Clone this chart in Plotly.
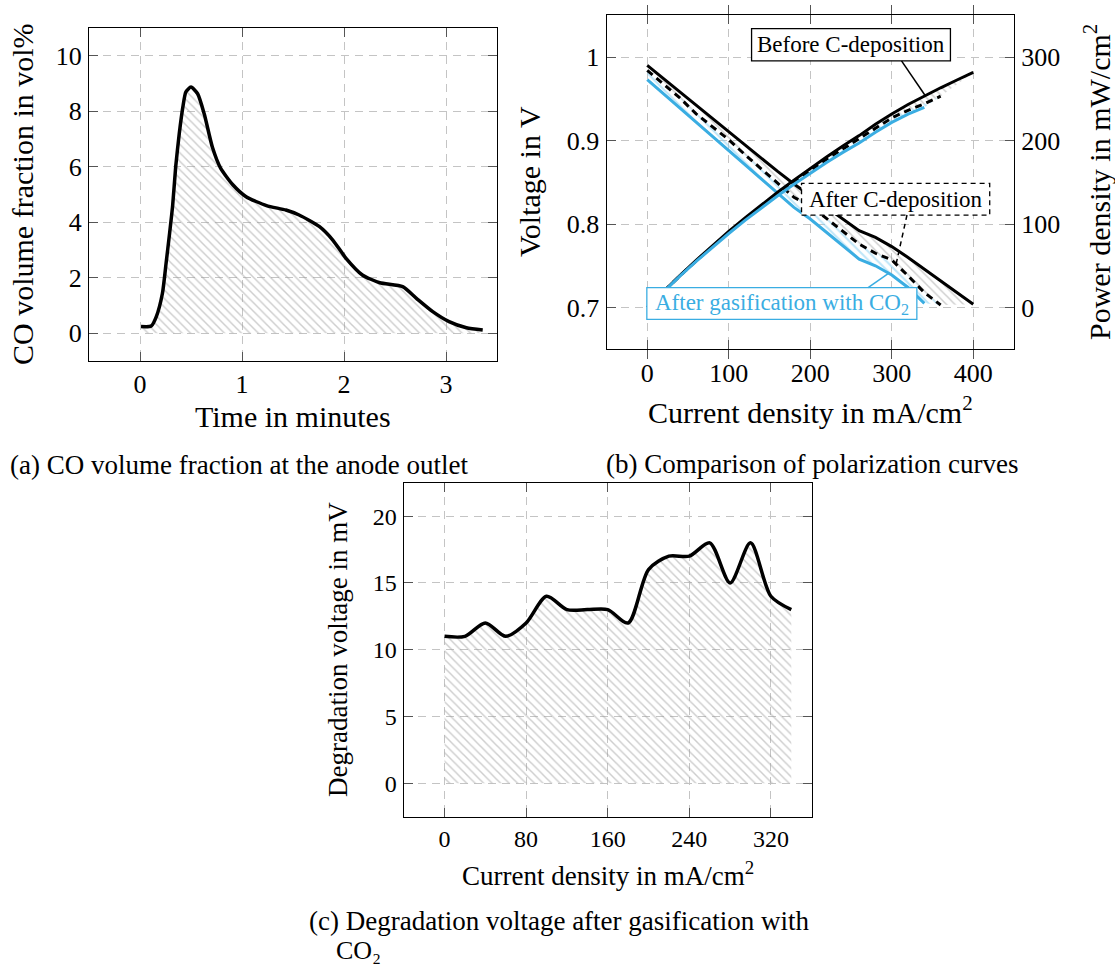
import plotly.graph_objects as go

W, H = 1115, 966
SERIF = "Liberation Serif"
BLUE = "#3AADE2"
BLUE_HATCH = "#7FCDF2"
GRAY_HATCH = "#9C9C9C"

# (a) CO volume fraction at the anode outlet
time_min = [0.01, 0.11, 0.16, 0.22, 0.255, 0.29, 0.32, 0.35, 0.385, 0.42, 0.45, 0.50,
            0.565, 0.63, 0.71, 0.79, 0.91, 1.04, 1.24, 1.43, 1.56, 1.76, 1.89, 2.02,
            2.18, 2.35, 2.575, 2.71, 2.87, 3.03, 3.20, 3.36]
co_vol = [0.24, 0.26, 0.6, 1.44, 2.5, 3.6, 4.6, 6.0, 7.2, 8.15, 8.7, 8.87,
          8.63, 7.9, 6.7, 5.95, 5.35, 4.92, 4.6, 4.44, 4.26, 3.84, 3.36, 2.7,
          2.1, 1.82, 1.68, 1.26, 0.78, 0.42, 0.2, 0.12]

# (b) polarization curves
j_before = [0, 20, 40, 60, 80, 100, 120, 140, 160, 180, 200, 220, 240, 260, 280, 300, 320, 340, 360, 380, 400]
v_before = [0.990, 0.974, 0.958, 0.943, 0.927, 0.911, 0.895, 0.879, 0.863, 0.848, 0.834,
            0.820, 0.806, 0.792, 0.784, 0.773, 0.760, 0.746, 0.731, 0.717, 0.704]
p_before = [0, 19.5, 38.3, 56.6, 74.2, 91.1, 107.4, 123.1, 138.1, 152.6, 166.8,
            180.4, 193.4, 205.9, 219.5, 231.9, 243.2, 253.6, 263.2, 272.5, 281.6]

j_cdep = [0, 20, 40, 60, 80, 100, 120, 140, 160, 180, 200, 220, 240, 260, 280, 300, 320, 340, 360]
v_cdep = [0.984, 0.967, 0.951, 0.932, 0.916, 0.901, 0.883, 0.866, 0.849, 0.832,
          0.822, 0.807, 0.791, 0.776, 0.765, 0.757, 0.738, 0.718, 0.703]
p_cdep = [0, 19.3, 38.0, 55.9, 73.3, 90.1, 106.0, 121.2, 135.8, 149.8,
          164.4, 177.5, 189.8, 201.8, 214.2, 227.1, 236.2, 244.1, 253.1]

j_gasif = [0, 20, 40, 60, 80, 100, 120, 140, 160, 180, 200, 220, 240, 260, 280, 300, 320, 340]
v_gasif = [0.973, 0.956, 0.939, 0.921, 0.904, 0.887, 0.870, 0.853, 0.836, 0.820,
           0.806, 0.790, 0.774, 0.758, 0.750, 0.739, 0.724, 0.705]
p_gasif = [0, 19.1, 37.6, 55.3, 72.3, 88.7, 104.4, 119.4, 133.8, 147.6,
           161.2, 173.8, 185.8, 197.1, 210.0, 221.7, 231.7, 239.7]

# (c) degradation voltage
j_deg = [0, 20, 40, 60, 80, 100, 120, 140, 160, 180, 200, 220, 240, 260, 280, 300, 320, 340]
deg_mv = [11, 11, 12, 11, 12, 14, 13, 13, 13, 12, 16, 17, 17, 18, 15, 18, 14, 13]


def px_x(x):
    return x / W


def px_y(y):
    return 1 - y / H


def hatch(color, solidity=0.24):
    return dict(shape="\\", size=6, solidity=solidity, fgcolor=color, bgcolor="rgba(0,0,0,0)")


fig = go.Figure()

# ---- panel (a)
fig.add_trace(go.Scatter(
    x=time_min, y=co_vol, xaxis="x", yaxis="y", mode="lines",
    line=dict(color="black", width=3.5, shape="spline", smoothing=0.6),
    fill="tozeroy", fillcolor="rgba(0,0,0,0)", fillpattern=hatch(GRAY_HATCH),
    showlegend=False,
))

# ---- panel (b): voltage
fig.add_trace(go.Scatter(x=j_before, y=v_before, xaxis="x2", yaxis="y2", mode="lines",
                         line=dict(color="black", width=3), showlegend=False))
fig.add_trace(go.Scatter(x=j_cdep, y=v_cdep, xaxis="x2", yaxis="y2", mode="lines",
                         line=dict(color="black", width=3, dash="7px,5px"),
                         fill="tonexty", fillcolor="rgba(0,0,0,0)", fillpattern=hatch(GRAY_HATCH),
                         showlegend=False))
fig.add_trace(go.Scatter(x=j_gasif, y=v_gasif, xaxis="x2", yaxis="y2", mode="lines",
                         line=dict(color=BLUE, width=3),
                         fill="tonexty", fillcolor="rgba(0,0,0,0)",
                         fillpattern=hatch(BLUE_HATCH, 0.35),
                         showlegend=False))
# ---- panel (b): power density
fig.add_trace(go.Scatter(x=j_before, y=p_before, xaxis="x2", yaxis="y3", mode="lines",
                         line=dict(color="black", width=3), showlegend=False))
fig.add_trace(go.Scatter(x=j_cdep, y=p_cdep, xaxis="x2", yaxis="y3", mode="lines",
                         line=dict(color="black", width=3, dash="7px,5px"),
                         fill="tonexty", fillcolor="rgba(0,0,0,0)", fillpattern=hatch(GRAY_HATCH),
                         showlegend=False))
fig.add_trace(go.Scatter(x=j_gasif, y=p_gasif, xaxis="x2", yaxis="y3", mode="lines",
                         line=dict(color=BLUE, width=3),
                         fill="tonexty", fillcolor="rgba(0,0,0,0)",
                         fillpattern=hatch(BLUE_HATCH, 0.35),
                         showlegend=False))

# ---- panel (c)
fig.add_trace(go.Scatter(
    x=j_deg, y=deg_mv, xaxis="x3", yaxis="y4", mode="lines",
    line=dict(color="black", width=3.5, shape="spline", smoothing=0.8),
    fill="tozeroy", fillcolor="rgba(0,0,0,0)", fillpattern=hatch(GRAY_HATCH),
    showlegend=False,
))


def axis_style(size=26, standoff=0, **kw):
    base = dict(
        showline=True, linecolor="black", linewidth=1.2, mirror="allticks",
        ticks="inside", ticklen=9, tickwidth=1.2, tickcolor="#555555",
        showgrid=True, gridcolor="#C4C4C4", gridwidth=1, griddash="8px,6px",
        zeroline=False, tickfont=dict(family=SERIF, size=size, color="black"),
        ticklabelstandoff=standoff,
    )
    base.update(kw)
    return base


fig.update_layout(
    width=W, height=H, margin=dict(l=0, r=0, t=0, b=0),
    paper_bgcolor="white", plot_bgcolor="white",
    xaxis=axis_style(domain=[px_x(89), px_x(497)], anchor="y", range=[-0.5, 3.5],
                     tickvals=[0, 1, 2, 3]),
    yaxis=axis_style(standoff=1, domain=[px_y(361), px_y(28)], anchor="x", range=[-1, 11],
                     tickvals=[0, 2, 4, 6, 8, 10]),
    xaxis2=axis_style(domain=[px_x(606.5), px_x(1014)], anchor="y2", range=[-50, 450],
                      tickvals=[0, 100, 200, 300, 400]),
    yaxis2=axis_style(standoff=1, domain=[px_y(349.3), px_y(15.3)], anchor="x2",
                      range=[0.65, 1.05], tickvals=[0.7, 0.8, 0.9, 1.0],
                      ticktext=["0.7", "0.8", "0.9", "1"], mirror=True),
    yaxis3=axis_style(standoff=1, overlaying="y2", side="right", anchor="x2", range=[-50, 350],
                      tickvals=[0, 100, 200, 300], showgrid=False, mirror=False),
    xaxis3=axis_style(size=24, domain=[px_x(403.7), px_x(811.7)], anchor="y4", range=[-40, 360],
                      tickvals=[0, 80, 160, 240, 320]),
    yaxis4=axis_style(size=24, standoff=1, domain=[px_y(816.7), px_y(482.7)], anchor="x3",
                      range=[-2.5, 22.5], tickvals=[0, 5, 10, 15, 20]),
)

# ---- callout boxes and pins in panel (b)
shapes = [
    dict(type="rect", xref="x2", yref="y2", x0=128, x1=372, y0=0.9955, y1=1.034,
         line=dict(color="black", width=1.3), fillcolor="white", layer="above"),
    dict(type="line", xref="x2", yref="y3", x0=312, y0=295.5, x1=341, y1=254,
         line=dict(color="black", width=1.5), layer="above"),
    dict(type="rect", xref="x2", yref="y2", x0=189.3, x1=420.2, y0=0.8108, y1=0.8488,
         line=dict(color="black", width=1.3, dash="5px,4px"), fillcolor="white", layer="above"),
    dict(type="line", xref="x2", yref="y2", x0=318.7, y0=0.8108, x1=305, y1=0.7505,
         line=dict(color="black", width=1.5, dash="5px,4px"), layer="above"),
    dict(type="rect", xref="x2", yref="y2", x0=-0.5, x1=330.8, y0=0.6858, y1=0.7239,
         line=dict(color=BLUE, width=1.3), fillcolor="white", layer="above"),
    dict(type="line", xref="x2", yref="y2", x0=271, y0=0.7239, x1=296, y1=0.741,
         line=dict(color=BLUE, width=1.5), layer="above"),
]
fig.update_layout(shapes=shapes)

label_font = dict(family=SERIF, size=23, color="black")
ann = [
    dict(text="Before C-deposition", xref="x2", yref="y2", x=250, y=1.0148,
         showarrow=False, font=label_font),
    dict(text="After C-deposition", xref="x2", yref="y2", x=304.7, y=0.8298,
         showarrow=False, font=label_font),
    dict(text="After gasification with CO<sub>2</sub>", xref="x2", yref="y2", x=165.2, y=0.7048,
         showarrow=False, font=dict(family=SERIF, size=23, color=BLUE)),
]

title_font = dict(family=SERIF, size=30, color="black")
title_font_c = dict(family=SERIF, size=27, color="black")


def txt(text, x, y, angle=0, xanchor="center", font=title_font):
    return dict(text=text, xref="paper", yref="paper", x=px_x(x), y=px_y(y),
                xanchor=xanchor, yanchor="middle", textangle=angle, showarrow=False, font=font)


ann += [
    txt("CO volume fraction in vol%", 23, 194, angle=-90),
    txt("Time in minutes", 293, 416),
    txt("Voltage in V", 530, 182, angle=-90),
    txt("Power density in mW/cm<sup>2</sup>", 1097, 182, angle=-90),
    txt("Current density in mA/cm<sup>2</sup>", 810, 410),
    txt("Degradation voltage in mV", 338, 650, angle=-90, font=title_font_c),
    txt("Current density in mA/cm<sup>2</sup>", 608, 874, font=title_font_c),
]

cap_font = dict(family=SERIF, size=27, color="black")
ann += [
    txt("(a) CO volume fraction at the anode outlet", 8, 465, xanchor="left", font=cap_font),
    txt("(b) Comparison of polarization curves", 604, 464, xanchor="left", font=cap_font),
    txt("(c) Degradation voltage after gasification with", 307, 921, xanchor="left", font=cap_font),
    txt("CO₂", 334, 950, xanchor="left", font=dict(family=SERIF, size=26, color="black")),
]
fig.update_layout(annotations=ann)

fig.write_html("out.html")
